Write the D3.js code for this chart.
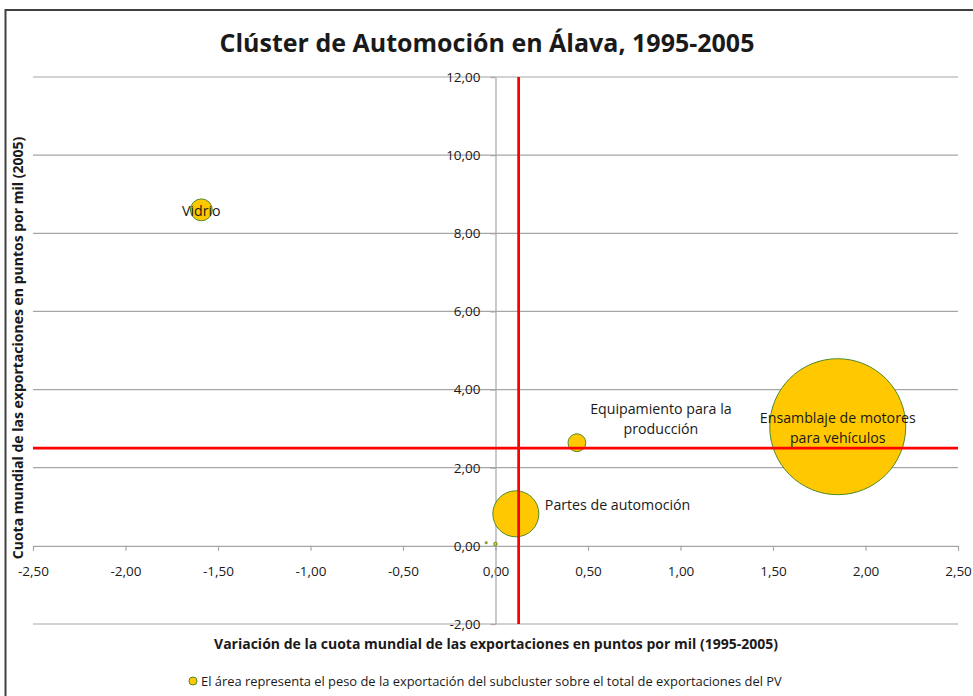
<!DOCTYPE html>
<html>
<head>
<meta charset="utf-8">
<script src="https://cdn.jsdelivr.net/npm/d3@7"></script>
<style>
    body { margin: 0; background: #fff; }
    text { font-family: "Open Sans", "Noto Sans", sans-serif; fill: #1a1a1a; }
</style>
</head>
<body>
<div id="chart"></div>
<script>
// subclusters del cluster de automocion (Alava)
const names = ['Vidrio', 'Equipamiento para la producción', 'Partes de automoción', 'Ensamblaje de motores para vehículos', '', '']
const variation = [-1.59, 0.44, 0.11, 1.85, -0.05, 0.00]   // eje X
const share = [8.60, 2.64, 0.82, 3.05, 0.08, 0.05]          // eje Y
const weight = [2.1, 1.4, 9.3, 81.3, 0.02, 0.05]            // tamaño de burbuja
const xTicks = [-2.5, -2, -1.5, -1, -0.5, 0, 0.5, 1, 1.5, 2, 2.5]
const yTicks = [-2, 0, 2, 4, 6, 8, 10, 12]
const refX = 0.125
const refY = 2.5

const width = 973
const height = 696

const fmt = v => d3.format('.2f')(v).replace('.', ',').replace('−', '-')

const svg = d3.select('#chart')
    .append('svg')
    .attr('width', width)
    .attr('height', height)

svg.append('rect')
    .attr('width', width).attr('height', height)
    .attr('fill', '#fff')

// marco del grafico
svg.append('rect')
    .attr('x', 5.5).attr('y', 10)
    .attr('width', 1000).attr('height', 700)
    .attr('fill', 'none')
    .attr('stroke', '#404040')
    .attr('stroke-width', 2)

const x = d3.scaleLinear().domain([-2.5, 2.5]).range([33, 958])
const y = d3.scaleLinear().domain([-2, 12]).range([624, 77])
const r = d3.scaleSqrt().domain([0, d3.max(weight)]).range([0, 68])

// lineas de division horizontales
svg.append('g')
    .selectAll('line')
    .data(yTicks.filter(d => d !== 0))
    .enter()
    .append('line')
    .attr('x1', x(-2.5)).attr('x2', x(2.5))
    .attr('y1', d => y(d)).attr('y2', d => y(d))
    .attr('stroke', '#a6a6a6')
    .attr('stroke-width', 1.2)

const xAxis = svg.append('g')
    .attr('transform', `translate(0,${y(0)})`)
    .call(d3.axisBottom(x).tickValues(xTicks).tickFormat(fmt).tickSize(5).tickSizeOuter(0).tickPadding(16))
const yAxis = svg.append('g')
    .attr('transform', `translate(${x(0)},0)`)
    .call(d3.axisLeft(y).tickValues(yTicks).tickFormat(fmt).tickSize(5).tickSizeOuter(0).tickPadding(10))

;[xAxis, yAxis].forEach(ax => {
    ax.selectAll('path, line').attr('stroke', '#a6a6a6').attr('stroke-width', 1.2)
    ax.selectAll('text')
        .attr('fill', '#1a1a1a')
        .style('font-family', '"Open Sans", sans-serif')
        .style('font-size', '13.5px')
})

const data = names.map((name, i) => ({
    name: name,
    vx: variation[i],
    vy: share[i],
    w: weight[i]
}))

// burbujas, la mas grande primero
svg.append('g')
    .selectAll('circle')
    .data(data.slice().sort((a, b) => b.w - a.w))
    .enter()
    .append('circle')
    .attr('cx', d => x(d.vx))
    .attr('cy', d => y(d.vy))
    .attr('r', d => r(d.w))
    .attr('fill', '#ffc800')
    .attr('stroke', '#4f8a2a')
    .attr('stroke-width', 1)

// lineas de referencia
svg.append('line')
    .attr('x1', x(refX)).attr('x2', x(refX))
    .attr('y1', y(12)).attr('y2', y(-2))
    .attr('stroke', '#ff0000').attr('stroke-width', 2.75)
svg.append('line')
    .attr('x1', x(-2.5)).attr('x2', x(2.5))
    .attr('y1', y(refY)).attr('y2', y(refY))
    .attr('stroke', '#ff0000').attr('stroke-width', 2.75)

// etiquetas de datos (offset respecto a la burbuja)
const labelPos = [
    {dx: 0, dy: 2, anchor: 'middle', lines: ['Vidrio']},
    {dx: 84, dy: -33, anchor: 'middle', lines: ['Equipamiento para la', 'producción']},
    {dx: 29, dy: -8, anchor: 'start', lines: ['Partes de automoción']},
    {dx: 0, dy: -8, anchor: 'middle', lines: ['Ensamblaje de motores', 'para vehículos']}
]
labelPos.forEach((p, i) => {
    const d = data[i]
    const t = svg.append('text')
        .attr('x', x(d.vx) + p.dx)
        .attr('y', y(d.vy) + p.dy)
        .attr('text-anchor', p.anchor)
        .attr('dominant-baseline', 'middle')
        .style('font-size', '14.2px')
    p.lines.forEach((line, j) => {
        t.append('tspan')
            .attr('x', x(d.vx) + p.dx)
            .attr('dy', j === 0 ? 0 : 20.5)
            .text(line)
    })
})

// titulos
svg.append('text')
    .attr('x', 487).attr('y', 52)
    .attr('text-anchor', 'middle')
    .style('font-size', '25px')
    .style('font-weight', 'bold')
    .text('Clúster de Automoción en Álava, 1995-2005')

svg.append('text')
    .attr('x', 496).attr('y', 649)
    .attr('text-anchor', 'middle')
    .style('font-size', '14px')
    .style('font-weight', 'bold')
    .text('Variación de la cuota mundial de las exportaciones en puntos por mil (1995-2005)')

svg.append('text')
    .attr('transform', 'translate(23,348) rotate(-90)')
    .attr('text-anchor', 'middle')
    .style('font-size', '14px')
    .style('font-weight', 'bold')
    .text('Cuota mundial de las exportaciones en puntos por mil (2005)')

// leyenda
svg.append('circle')
    .attr('cx', 193).attr('cy', 681).attr('r', 4)
    .attr('fill', '#ffc800')
    .attr('stroke', '#4f8a2a')
svg.append('text')
    .attr('x', 201).attr('y', 685.5)
    .style('font-size', '12.9px')
    .text('El área representa el peso de la exportación del subcluster sobre el total de exportaciones del PV')
</script>
</body>
</html>
